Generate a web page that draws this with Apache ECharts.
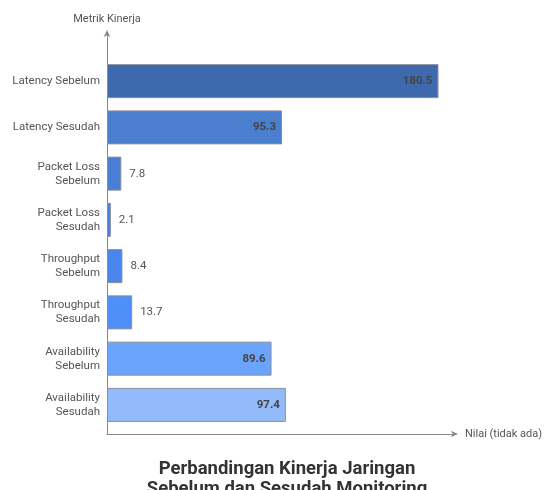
<!DOCTYPE html>
<html><head><meta charset="utf-8">
<script src="https://cdn.jsdelivr.net/npm/echarts@6/dist/echarts.min.js"></script>
<style>html,body{margin:0;padding:0;background:#fff}#c{width:547px;height:490px}</style>
</head><body><div id="c"></div>
<script>
const categories = ['Latency Sebelum','Latency Sesudah','Packet Loss\nSebelum','Packet Loss\nSesudah','Throughput\nSebelum','Throughput\nSesudah','Availability\nSebelum','Availability\nSesudah'];
const values = [180.5, 95.3, 7.8, 2.1, 8.4, 13.7, 89.6, 97.4];
const barColors = ['#3f69ad','#4a7fcd','#4a7ed6','#4b80e0','#4b86ec','#4e8ffa','#6aa4fc','#93bbfb'];
const insideLabel = [true, true, false, false, false, false, true, true];
const xMax = 189.5;

const chart = echarts.init(document.getElementById('c'));
const font = 'Roboto, sans-serif';
chart.setOption({
  animation: false,
  title: {
    text: 'Perbandingan Kinerja Jaringan\nSebelum dan Sesudah Monitoring',
    left: 282, top: 454, textAlign: 'center',
    textStyle: {fontFamily: font, fontSize: 18.5, fontWeight: 'bold', color: '#333', lineHeight: 20}
  },
  grid: [
    {left: 107, right: 92, top: 33, bottom: 56},
    {left: 107, right: 92, top: 58, bottom: 62}
  ],
  xAxis: [
    {gridIndex: 0, type: 'value', min: 0, max: xMax,
     name: 'Nilai (tidak ada)', nameLocation: 'end', nameGap: 10,
     nameTextStyle: {fontFamily: font, fontSize: 11, color: '#555'},
     axisLine: {show: true, symbol: ['none','arrow'], symbolSize: [5, 7], symbolOffset: [0, 3], lineStyle: {color: '#888', width: 1}},
     axisTick: {show: false}, axisLabel: {show: false}, splitLine: {show: false}},
    {gridIndex: 1, type: 'value', min: 0, max: xMax, show: false, splitLine: {show: false}}
  ],
  yAxis: [
    {gridIndex: 0, type: 'value', min: 0, max: 1,
     name: 'Metrik Kinerja', nameLocation: 'end', nameGap: 8,
     nameTextStyle: {fontFamily: font, fontSize: 11, color: '#555', align: 'center'},
     axisLine: {show: true, symbol: ['none','arrow'], symbolSize: [5, 7], symbolOffset: [0, 3], lineStyle: {color: '#888', width: 1}},
     axisTick: {show: false}, axisLabel: {show: false}, splitLine: {show: false}},
    {gridIndex: 1, type: 'category', data: categories, inverse: true,
     axisLine: {show: false}, axisTick: {show: false},
     axisLabel: {fontFamily: font, fontSize: 11.5, color: '#555', margin: 7, lineHeight: 14, align: 'right'}}
  ],
  series: [{
    type: 'bar', xAxisIndex: 1, yAxisIndex: 1,
    barWidth: 34,
    data: values.map((v, i) => ({
      value: v,
      itemStyle: {color: barColors[i], borderColor: '#8a8f99', borderWidth: 1},
      label: insideLabel[i]
        ? {show: true, position: 'insideRight', distance: 6, fontFamily: font, fontSize: 11.5, fontWeight: 'bold', color: '#444'}
        : {show: true, position: 'right', distance: 8, fontFamily: font, fontSize: 11.5, color: '#555'}
    }))
  }]
});
</script></body></html>
